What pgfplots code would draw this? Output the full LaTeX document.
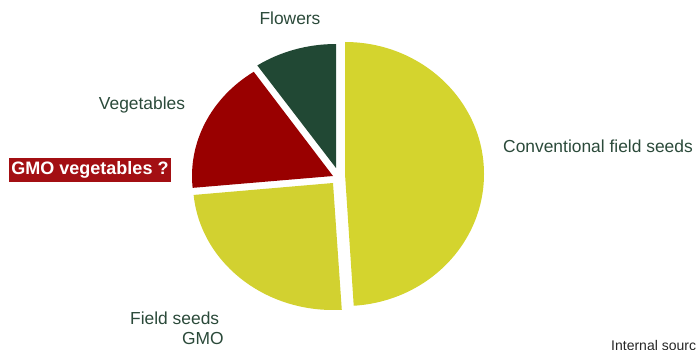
\documentclass[border=0pt]{standalone}
\usepackage{pgfplots}
\pgfplotsset{compat=1.18}
\usepackage{fontspec}
\setmainfont{Liberation Sans}
\definecolor{convcol}{HTML}{D4D42E}
\definecolor{gmocol}{HTML}{D2D130}
\definecolor{vegcol}{HTML}{990000}
\definecolor{flowcol}{HTML}{214834}
\definecolor{labcol}{HTML}{2B4A3A}
\definecolor{boxcol}{HTML}{A30F13}
\def\cum{0}
% #1 share in percent, #2 colour, #3 cx, #4 cy, #5 x radius, #6 y radius
\newcommand\slice[6]{%
  \pgfmathsetmacro\tA{90-\cum*3.6}%
  \pgfmathsetmacro\newcum{\cum+#1}%
  \global\let\cum\newcum
  \pgfmathsetmacro\tB{90-\cum*3.6}%
  \edef\doslice{\noexpand\fill[#2] (axis cs:#3,#4) -- ++(\tA:#5pt and #6pt)
    arc[start angle=\tA, end angle=\tB, x radius=#5pt, y radius=#6pt] -- cycle;}%
  \doslice}
\begin{document}
\begin{tikzpicture}
\begin{axis}[
  scale only axis, width=696pt, height=349pt,
  xmin=0, xmax=696, ymin=0, ymax=349,
  hide axis, clip=false]
% share, colour, centre, radii
\slice{49}{convcol}{345}{175}{139}{132}
\slice{24.5}{gmocol}{333}{166}{140}{127}
\slice{17}{vegcol}{333}{173}{141}{126}
\slice{9.5}{flowcol}{336}{181}{140}{124}
\node[text=labcol, font=\fontsize{17.4}{20}\selectfont] at (axis cs:290,331) {Flowers};
\node[text=labcol, font=\fontsize{17.4}{20}\selectfont] at (axis cs:142,244) {Vegetables};
\node[text=labcol, font=\fontsize{17.4}{20}\selectfont, anchor=west, inner sep=0pt] at (axis cs:503,203) {Conventional field seeds};
\node[text=labcol, font=\fontsize{17.4}{20}\selectfont, anchor=west, inner sep=0pt] at (axis cs:130,31) {Field seeds};
\node[text=labcol, font=\fontsize{17.4}{20}\selectfont, anchor=west, inner sep=0pt] at (axis cs:182,10) {GMO};
\node[fill=boxcol, text=white, font=\bfseries\fontsize{18}{21}\selectfont, inner xsep=2.5pt, inner ysep=0pt, minimum height=24pt] at (axis cs:90,179) {GMO vegetables ?};
\node[overlay, text=black!85, font=\fontsize{14}{16}\selectfont, anchor=base west, inner sep=0pt] at (axis cs:611,-1) {Internal source};
\end{axis}
\pgfresetboundingbox
\path[use as bounding box] (current axis.south west) rectangle (current axis.north east);
\end{tikzpicture}
\end{document}
